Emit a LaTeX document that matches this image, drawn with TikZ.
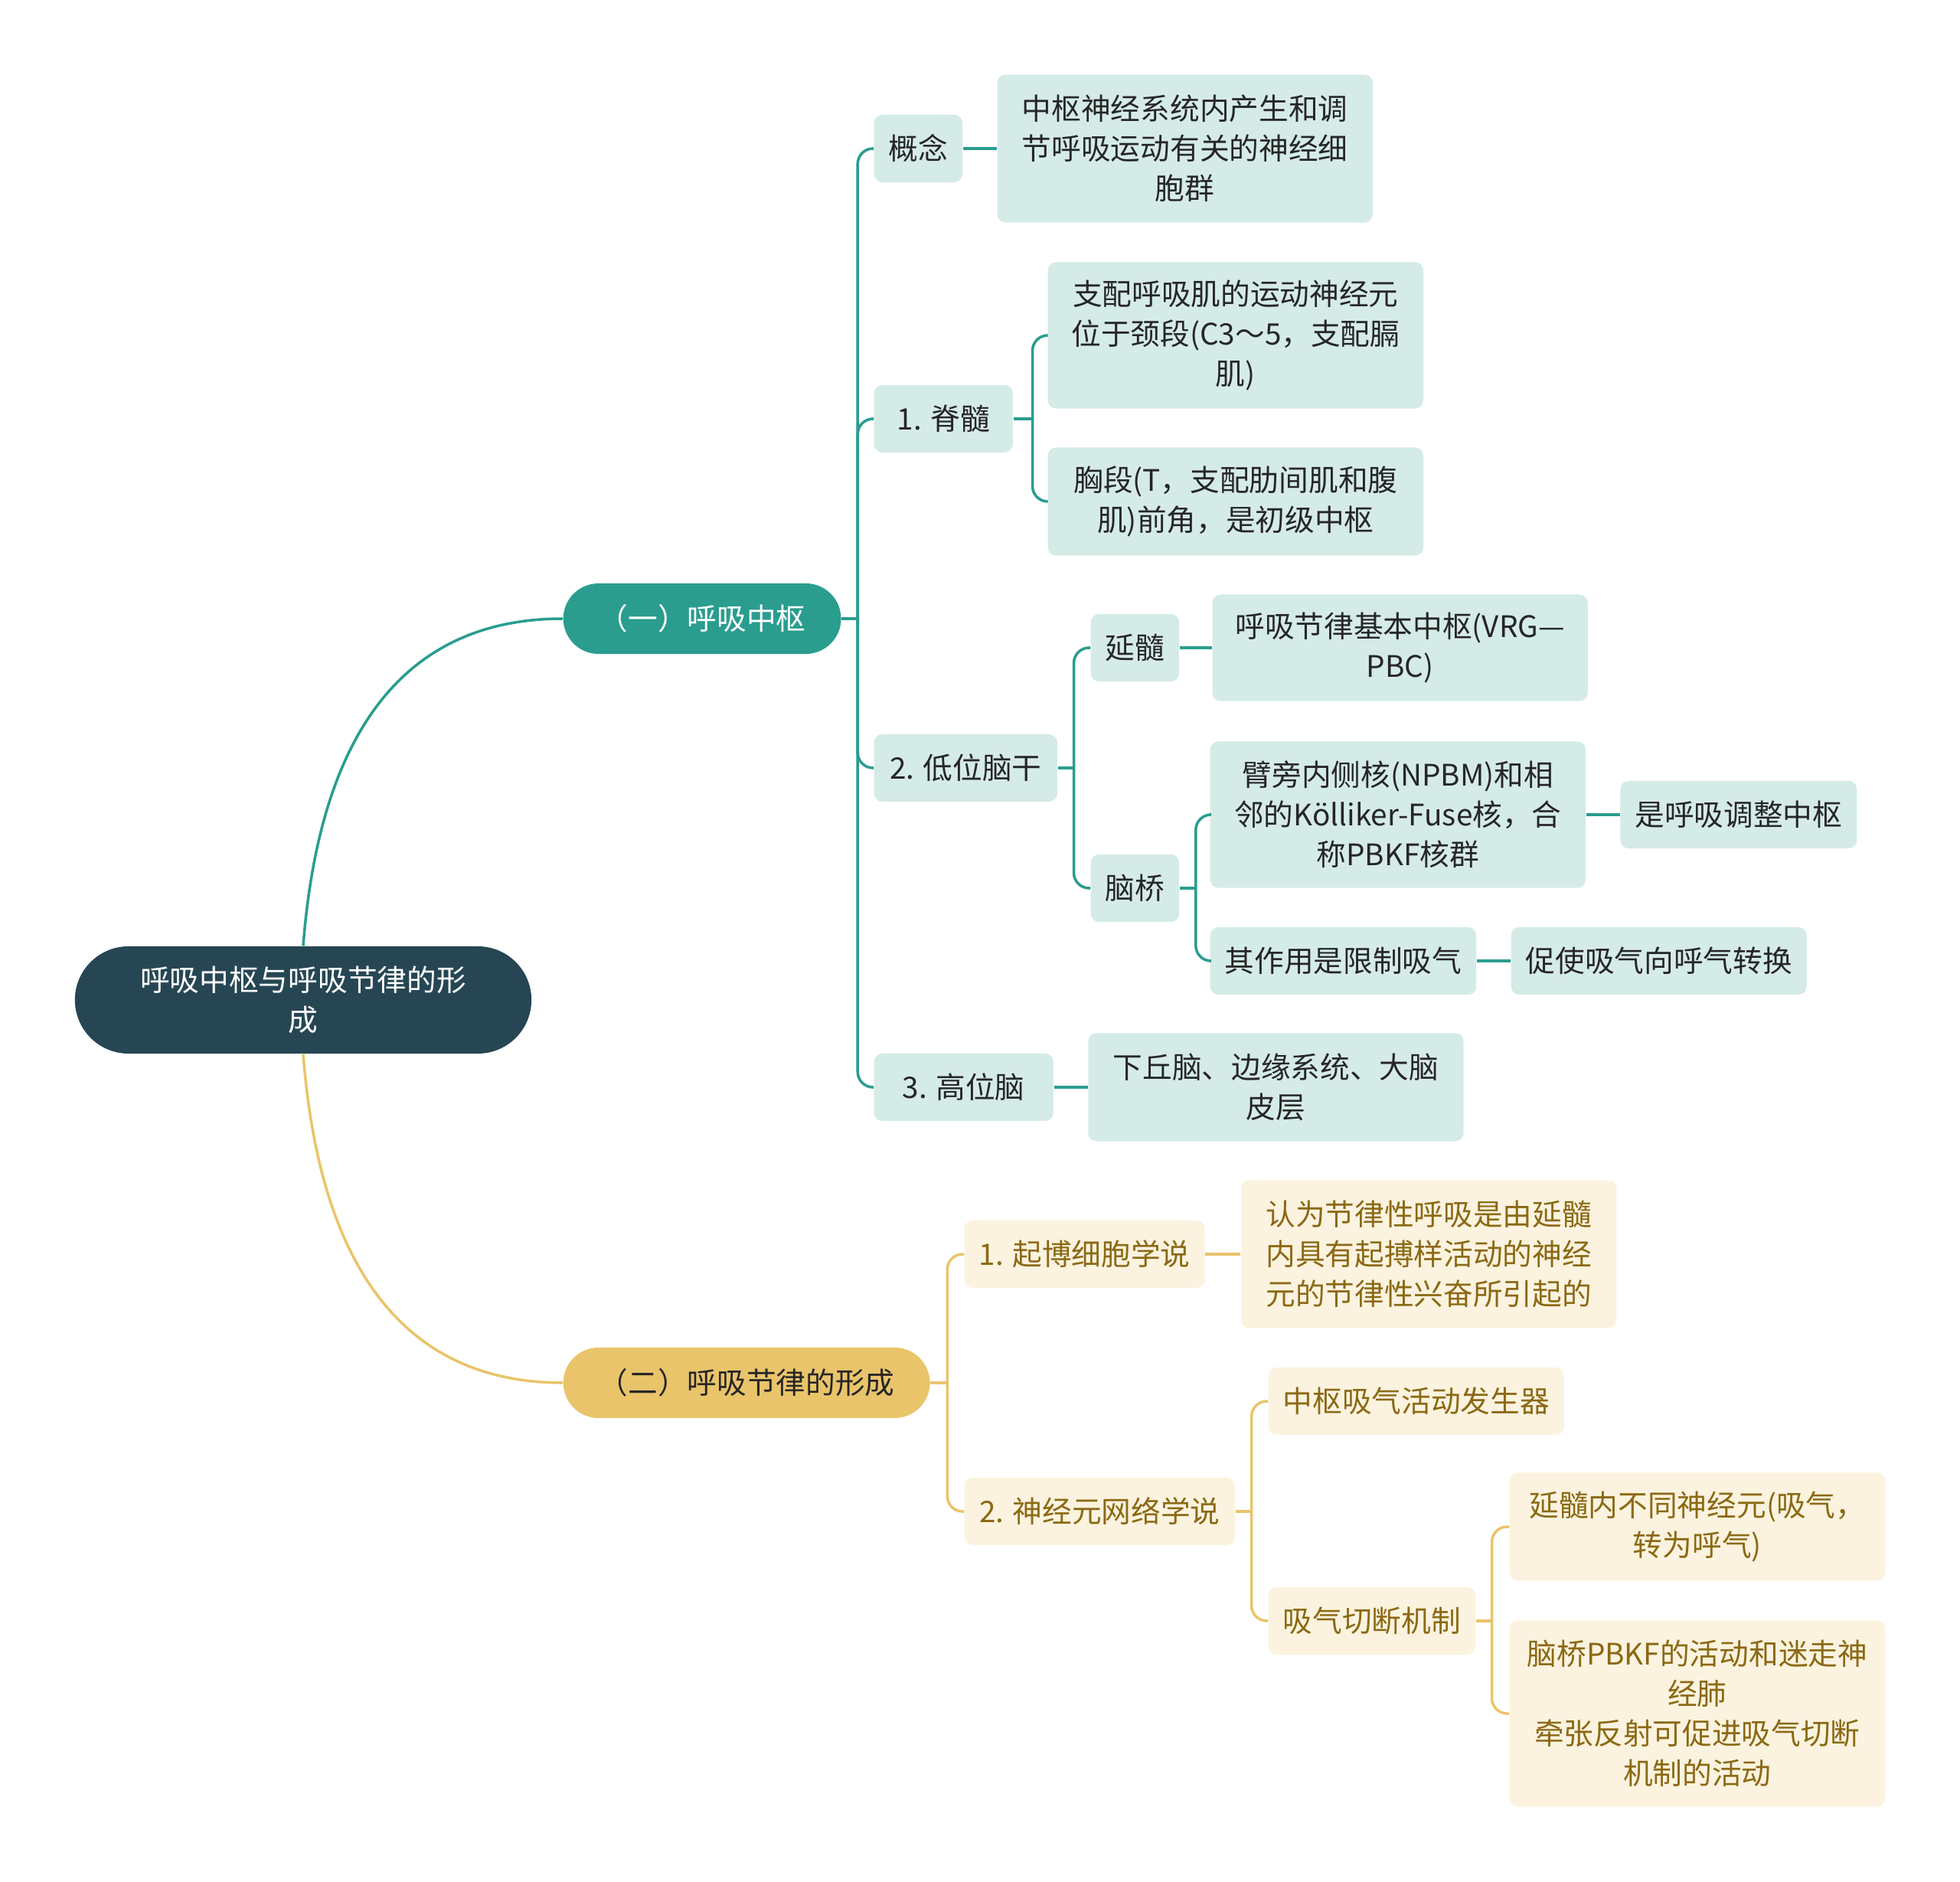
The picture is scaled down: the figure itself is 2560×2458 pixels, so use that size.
\documentclass[tikz,border=0pt]{standalone}
\usepackage{fontspec}
\setmainfont{Noto Sans CJK SC}
\usepackage{tikz}
\usetikzlibrary{positioning}
\definecolor{DeepSlate}{HTML}{264653}
\definecolor{SeaTeal}{HTML}{2A9D8F}
\definecolor{SandGold}{HTML}{E9C46A}
\definecolor{MistTeal}{HTML}{D5EBE8}
\definecolor{CreamGold}{HTML}{FBF3DF}
\definecolor{OliveText}{HTML}{8B6914}
\definecolor{InkText}{HTML}{262626}

\begin{document}
\begin{tikzpicture}[
  x=0.01cm, y=-0.01cm,
  node distance=0.44cm,
  every node/.style={font=\fontsize{11pt}{14.8pt}\selectfont, align=center, inner xsep=0.19cm, inner ysep=0.2cm},
  centre/.style={fill=DeepSlate, text=white, rounded corners=0.7cm, minimum width=5.96cm, minimum height=1.4cm},
  topic/.style={rounded corners=0.46cm, minimum height=0.92cm, inner xsep=0.46cm},
  tbox/.style={fill=MistTeal, text=InkText, rounded corners=3pt, minimum height=0.88cm},
  gbox/.style={fill=CreamGold, text=OliveText, rounded corners=3pt, minimum height=0.88cm},
  broad/.style={minimum width=4.9cm},
  tline/.style={draw=SeaTeal, line width=1pt},
  gline/.style={draw=SandGold, line width=1pt},
  twig/.style={rounded corners=0.2cm}
]
\useasboundingbox (0,0) rectangle (2560,2458);

\node[centre] (root) at (396,1306) {呼吸中枢与呼吸节律的形\\成};
\node[topic, fill=SeaTeal, text=white, anchor=west] (resp) at (735,808) {（一）呼吸中枢};
\node[topic, fill=SandGold, text=InkText, anchor=west] (rhythm) at (735,1806) {（二）呼吸节律的形成};

% (一) 呼吸中枢
\node[tbox, anchor=west] (gainian) at (1141,194) {概念};
\node[tbox, broad, minimum height=1.93cm, right=of gainian] (gnText) {中枢神经系统内产生和调\\节呼吸运动有关的神经细\\胞群};
\node[tbox, minimum width=1.81cm, anchor=west] (jisui) at (1141,547) {1. 脊髓};
\node[tbox, broad, minimum height=1.91cm, anchor=west] (jsNeck) at (1368,438) {支配呼吸肌的运动神经元\\位于颈段(C3～5，支配膈\\肌)};
\node[tbox, broad, minimum height=1.41cm, anchor=west] (jsChest) at (1368,655) {胸段(T，支配肋间肌和腹\\肌)前角，是初级中枢};
\node[tbox, minimum width=2.39cm, anchor=west] (naogan) at (1141,1003) {2. 低位脑干};
\node[tbox, anchor=west] (yansui) at (1424,846) {延髓};
\node[tbox, broad, minimum height=1.39cm, right=0.42cm of yansui] (ysText) {呼吸节律基本中枢(VRG—\\PBC)};
\node[tbox, anchor=west] (naoqiao) at (1424,1160) {脑桥};
\node[tbox, broad, minimum height=1.91cm, anchor=west] (pbkf) at (1580,1064) {臂旁内侧核(NPBM)和相\\邻的Kölliker-Fuse核，合\\称PBKF核群};
\node[tbox, right=of pbkf] (tiaozheng) {是呼吸调整中枢};
\node[tbox, anchor=west] (xianzhi) at (1580,1255) {其作用是限制吸气};
\node[tbox, right=of xianzhi] (zhuanhuan) {促使吸气向呼气转换};
\node[tbox, minimum width=2.34cm, anchor=west] (gaowei) at (1141,1420) {3. 高位脑};
\node[tbox, broad, minimum height=1.41cm, right=of gaowei] (gwText) {下丘脑、边缘系统、大脑\\皮层};

% (二) 呼吸节律的形成
\node[gbox, minimum width=3.13cm, anchor=west] (qibo) at (1259,1638) {1. 起博细胞学说};
\node[gbox, broad, minimum height=1.93cm, right=0.46cm of qibo] (qbText) {认为节律性呼吸是由延髓\\内具有起搏样活动的神经\\元的节律性兴奋所引起的};
\node[gbox, minimum width=3.53cm, anchor=west] (wangluo) at (1259,1974) {2. 神经元网络学说};
\node[gbox, anchor=west] (faqiqi) at (1656,1830) {中枢吸气活动发生器};
\node[gbox, anchor=west] (qieduan) at (1656,2117) {吸气切断机制};
\node[gbox, broad, minimum height=1.41cm, anchor=west] (qdMedulla) at (1971,1994) {延髓内不同神经元(吸气，\\转为呼气)};
\node[gbox, broad, minimum height=2.43cm, anchor=west] (qdPons) at (1971,2238) {脑桥PBKF的活动和迷走神\\经肺\\牵张反射可促进吸气切断\\机制的活动};

% main branches
\draw[tline] (root.north) .. controls +(22,-284) and +(-203,0) .. (resp.west);
\draw[gline] (root.south) .. controls +(22,284) and +(-203,0) .. (rhythm.west);

% teal side
\draw[tline] (resp.east) -- ++(21,0);
\foreach \kid in {gainian,jisui,naogan,gaowei}
  \draw[tline, twig] (resp.east) ++(21,0) |- (\kid.west);
\draw[tline] (gainian) -- (gnText);
\draw[tline] (jisui.east) -- ++(25,0);
\foreach \kid in {jsNeck,jsChest}
  \draw[tline, twig] (jisui.east) ++(25,0) |- (\kid.west);
\draw[tline] (naogan.east) -- ++(21,0);
\foreach \kid in {yansui,naoqiao}
  \draw[tline, twig] (naogan.east) ++(21,0) |- (\kid.west);
\draw[tline] (yansui) -- (ysText);
\draw[tline] (naoqiao.east) -- ++(21,0);
\foreach \kid in {pbkf,xianzhi}
  \draw[tline, twig] (naoqiao.east) ++(21,0) |- (\kid.west);
\draw[tline] (pbkf) -- (tiaozheng);
\draw[tline] (xianzhi) -- (zhuanhuan);
\draw[tline] (gaowei) -- (gwText);

% gold side
\draw[gline] (rhythm.east) -- ++(22,0);
\foreach \kid in {qibo,wangluo}
  \draw[gline, twig] (rhythm.east) ++(22,0) |- (\kid.west);
\draw[gline] (qibo) -- (qbText);
\draw[gline] (wangluo.east) -- ++(21,0);
\foreach \kid in {faqiqi,qieduan}
  \draw[gline, twig] (wangluo.east) ++(21,0) |- (\kid.west);
\draw[gline] (qieduan.east) -- ++(21,0);
\foreach \kid in {qdMedulla,qdPons}
  \draw[gline, twig] (qieduan.east) ++(21,0) |- (\kid.west);
\end{tikzpicture}
\end{document}
